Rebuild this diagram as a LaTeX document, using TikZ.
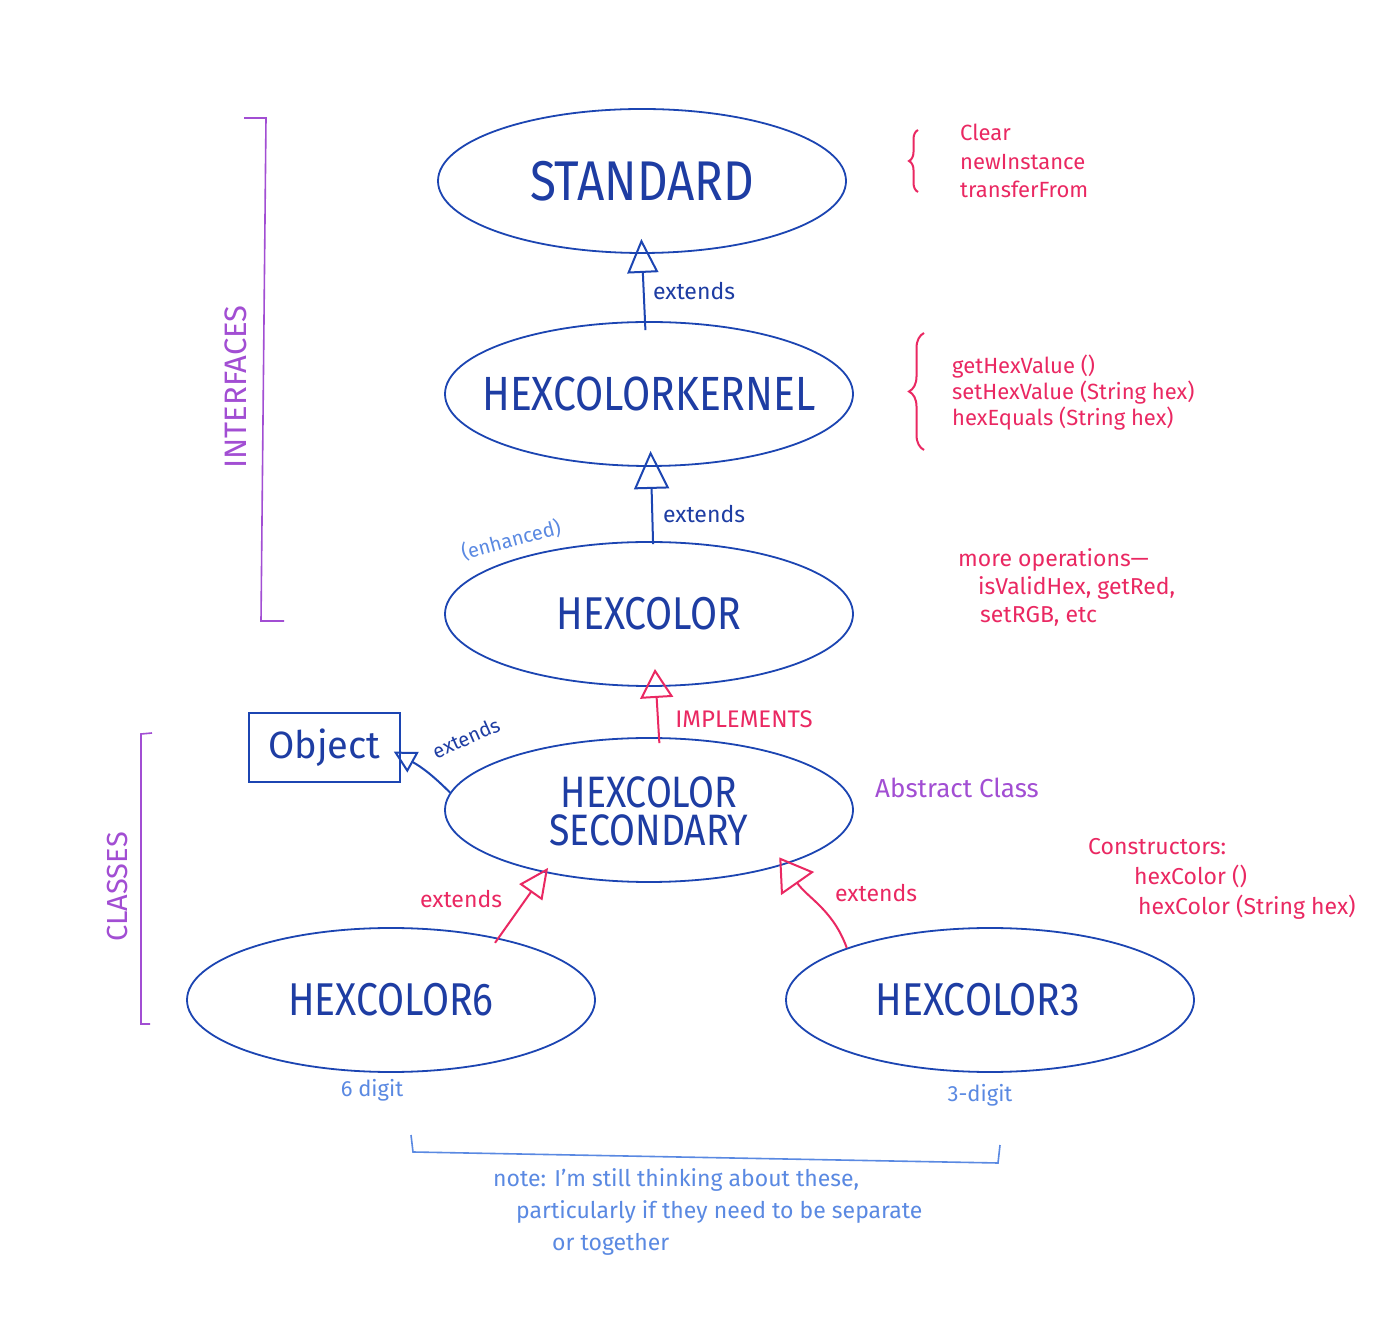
\documentclass[tikz,border=0pt]{standalone}
\usepackage{fontspec}
\setmainfont{Fira Sans}
\newfontfamily\titlefont[FakeStretch=0.85]{Fira Sans}
\usetikzlibrary{shapes.geometric,arrows.meta,decorations.pathreplacing}
\definecolor{inkblue}{HTML}{1C45B2}
\definecolor{inktext}{HTML}{1E3DA3}
\definecolor{inkpink}{HTML}{EA2862}
\definecolor{inkpurple}{HTML}{A24ED3}
\definecolor{inklight}{HTML}{5A89E2}
\newcommand\fsz[2]{\fontsize{#1}{#2}\selectfont}
\newcommand\nowidth[1]{\makebox[0pt]{#1}}
\begin{document}
\begin{tikzpicture}[x=1pt,y=1pt,
  oval/.style={ellipse, draw=inkblue, line width=1.8pt, minimum width=408pt,
    minimum height=144pt, inner sep=0pt, text=inktext},
  ttl/.style={font={\titlefont\fsz{#1}{#1}}},
  lab/.style={inner sep=0pt, font={\fsz{23}{23}}},
  blueline/.style={draw=inkblue, line width=2pt},
  pinkline/.style={draw=inkpink, line width=2pt},
  purpleline/.style={draw=inkpurple, line width=1.6pt},
  lightline/.style={draw=inklight, line width=1.6pt},
]
\fill[white] (0,0) rectangle (1399,1328);

% interface and class ovals
\node[oval, ttl=56] (std) at (642,1147) {\nowidth{STANDARD}};
\node[oval, ttl=48] (ker) at (649,934) {\nowidth{HEXCOLORKERNEL}};
\node[oval, ttl=46] (hex) at (649,714) {\nowidth{HEXCOLOR}};
\node[oval, ttl=44] (sec) at (649,518)
  {\nowidth{\raisebox{-14pt}[0pt][0pt]{\begin{tabular}{@{}c@{}}HEXCOLOR\\[-6pt]SECONDARY\end{tabular}}}};
\node[oval, ttl=46] (h6) at (391,328) {\nowidth{HEXCOLOR6}};
\node[oval, ttl=46] (h3) at (990,328) {\nowidth{\hspace*{-24pt}HEXCOLOR3}};
\node[draw=inkblue, line width=1.6pt, minimum width=151pt, minimum height=69pt,
  inner sep=0pt, text=inktext, font={\fsz{38}{38}}] (obj) at (324.5,580.5) {Object};

% inheritance arrows
\draw[blueline, -{Triangle[open,length=34pt,width=31pt]},
  shorten <=-9pt, shorten >=-15pt] ([xshift=-4pt]ker.north) -- (std.south);
\draw[blueline, -{Triangle[open,length=38pt,width=35pt]},
  shorten <=-3pt, shorten >=-16pt] ([xshift=4pt]hex.north) -- ([xshift=2pt]ker.south);
\draw[pinkline, -{Triangle[open,length=29pt,width=33pt]},
  shorten <=-6pt, shorten >=-18pt] ([xshift=10pt]sec.north) -- ([xshift=7pt]hex.south);
\draw[blueline, -{Triangle[open,length=22pt,width=23pt]}, shorten >=-8pt]
  (sec.175) to[bend right=8] ([yshift=-8pt]obj.east);
\draw[pinkline, -{Triangle[open,length=30pt,width=28pt]},
  shorten <=-6pt, shorten >=-6pt] (h6.30) -- (sec.211);
\draw[pinkline, -{Triangle[open,length=32pt,width=40pt]}, shorten >=-9pt]
  (h3.160) to[out=110,in=-55] (sec.338);

% arrow labels
\node[lab, text=inktext] (lext1) at (694,1037) {extends};
\node[lab, text=inktext] (lext2) at (704,814) {extends};
\node[lab, text=inkpink, font={\fsz{24}{24}}] (limpl) at (744,609) {IMPLEMENTS};
\node[lab, text=inktext, font={\fsz{20}{20}}, rotate=24] (lext3) at (466,590) {extends};
\node[lab, text=inkpink] (lext4) at (461,429) {extends};
\node[lab, text=inkpink] (lext5) at (876,435) {extends};

% side notes
\node[inner sep=0pt, anchor=north west, align=left, text=inkpink, font={\fsz{22}{28.5}}]
  (nstd) at (960,1204) {Clear\\newInstance\\transferFrom};
\node[inner sep=0pt, anchor=north west, align=left, text=inkpink, font={\fsz{22}{26}}]
  (nker) at (952,973) {getHexValue ()\\setHexValue (String hex)\\hexEquals (String hex)};
\node[inner sep=0pt, anchor=north west, align=left, text=inkpink, font={\fsz{23}{28}}]
  (nhex) at (958,780) {more operations---\\\hspace*{20pt}isValidHex, getRed,\\\hspace*{22pt}setRGB, etc};
\node[inner sep=0pt, anchor=north west, align=left, text=inkpink, font={\fsz{23}{30}}]
  (ncon) at (1088,490) {Constructors:\\\hspace*{46pt}hexColor ()\\\hspace*{50pt}hexColor (String hex)};
\node[inner sep=0pt, text=inkpurple, font={\fsz{26}{26}}] (nabs) at (957,540) {Abstract Class};
\node[inner sep=0pt, text=inklight, font={\fsz{20}{20}}, rotate=15] (nenh) at (511,788) {(enhanced)};
\node[inner sep=0pt, text=inklight, font={\fsz{22}{22}}] (n6) at (372,238) {6 digit};
\node[inner sep=0pt, text=inklight, font={\fsz{22}{22}}] (n3) at (980,233) {3-digit};
\node[inner sep=0pt, anchor=north west, align=left, text=inklight, font={\fsz{23}{32}}]
  (nnote) at (493,160) {note: I'm still thinking about these,\\\hspace*{23pt}particularly if they need to be separate\\\hspace*{59pt}or together};

% group brackets
\draw[purpleline] (244,1210) -- (266,1210) -- (261,707) -- (284,707);
\node[inner sep=0pt, text=inkpurple, font={\fsz{31}{31}}, rotate=90] (ninter) at (236,941) {INTERFACES};
\draw[purpleline] (152,595) -- (141,594) -- (141,304) -- (150,304);
\node[inner sep=0pt, text=inkpurple, font={\fsz{29}{29}}, rotate=90] (nclass) at (118,441) {CLASSES};
\draw[lightline] (411,193) -- (413,176) -- (998,165) -- (1000,183);

% method braces
\draw[pinkline, decorate, decoration={brace, amplitude=9pt}] (918,1136) -- (918,1198);
\draw[pinkline, decorate, decoration={brace, amplitude=15pt}] (924,878) -- (924,995);
\end{tikzpicture}
\end{document}
